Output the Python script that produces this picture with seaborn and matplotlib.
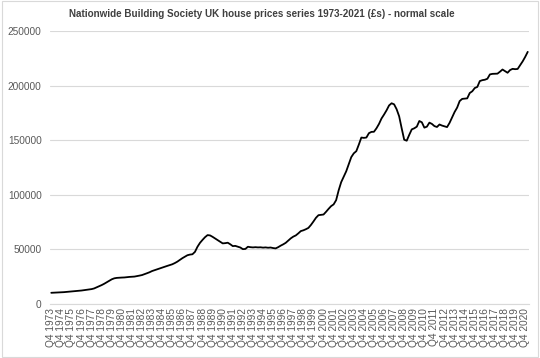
import numpy as np
import pandas as pd
import matplotlib
matplotlib.use("Agg")
import matplotlib.pyplot as plt
import seaborn as sns

# ---------------------------
# DATA (quarterly, Q4 1973 .. Q1 2021)
# ---------------------------
start_year = 1973
prices_1973 = [9900]
prices_1974_1983 = [
    10000, 10100, 10200, 10300,
    10500, 10700, 10900, 11100,
    11300, 11600, 11800, 12000,
    12300, 12600, 12900, 13300,
    13900, 14900, 16000, 17000,
    18200, 19600, 21000, 22300,
    23200, 23600, 23800, 23900,
    24000, 24300, 24500, 24600,
    24800, 25200, 25700, 26200,
    27000, 27900, 28800, 29900,
]
prices_1984_1993 = [
    30700, 31600, 32400, 33200,
    33900, 34600, 35300, 36100,
    37200, 38500, 40100, 41700,
    43000, 44400, 45000, 45300,
    47500, 52200, 55800, 58500,
    61000, 62900, 62600, 61300,
    59800, 58300, 56700, 55300,
    55500, 55900, 54500, 52800,
    53000, 52200, 51500, 50000,
    50200, 52200, 51800, 51600,
]
prices_1994_2003 = [
    51800, 51600, 51700, 51400,
    51600, 51300, 51500, 51000,
    50700, 51800, 53200, 54400,
    55800, 57800, 59900, 61500,
    62600, 64500, 66600, 67300,
    68300, 69500, 72200, 75400,
    78800, 81200, 81500, 81800,
    84300, 87000, 89500, 91100,
    95000, 104000, 111500, 116400,
    121500, 128000, 134500, 138000,
]
prices_2004_2013 = [
    140000, 146000, 152500, 152200,
    152500, 156500, 157700, 157800,
    161000, 165000, 170000, 173600,
    177500, 182000, 184000, 183000,
    178500, 172000, 161000, 150500,
    149600, 155000, 160000, 161000,
    162500, 167700, 166500, 161600,
    162500, 166200, 165000, 163000,
    162200, 164500, 163500, 162800,
    162100, 166000, 171000, 176000,
]
prices_2014_2021 = [
    180000, 186000, 188000, 188200,
    188500, 193400, 195000, 198000,
    199000, 204400, 205200, 205600,
    206500, 210500, 211000, 211100,
    211200, 213000, 215000, 213500,
    212000, 214500, 215600, 215300,
    215500, 219000, 222500, 226600,
    231200,
]

prices = (prices_1973 + prices_1974_1983 + prices_1984_1993
          + prices_1994_2003 + prices_2004_2013 + prices_2014_2021)

quarters = []
for i in range(len(prices)):
    q = (3 + i) % 4 + 1
    y = start_year + (3 + i) // 4
    quarters.append(f"Q{q} {y}")

df = pd.DataFrame({"idx": np.arange(len(prices)), "quarter": quarters, "price": prices})

tick_pos = [i for i, q in enumerate(quarters) if q.startswith("Q4")]
tick_labels = [quarters[i] for i in tick_pos]

title = "Nationwide Building Society UK house prices series 1973-2021 (£s) - normal scale"

# ---------------------------
# PLOT
# ---------------------------
sns.set_style("white")
plt.rcParams["font.family"] = ["Liberation Sans", "DejaVu Sans"]

fig = plt.figure(figsize=(5.4, 3.58), dpi=100)
ax = fig.add_axes([0.0926, 0.152, 0.887, 0.7603])

sns.lineplot(data=df, x="idx", y="price", color="black", linewidth=1.3, ax=ax)

ax.set_xlim(-0.5, len(prices) - 0.5)
ax.set_ylim(0, 250000)
ax.set_yticks(np.arange(0, 250001, 50000))
ax.set_yticklabels([str(v) for v in range(0, 250001, 50000)])
ax.set_xticks(tick_pos)
ax.set_xticklabels(tick_labels, rotation=90)
ax.tick_params(axis="both", length=0, labelsize=7.3, colors="#595959")
ax.tick_params(axis="y", pad=6)
ax.tick_params(axis="x", pad=3)
ax.grid(axis="y", color="#d9d9d9", linewidth=0.8)
ax.set_axisbelow(True)
ax.set_xlabel("")
ax.set_ylabel("")
for side in ["top", "right", "left"]:
    ax.spines[side].set_visible(False)
ax.spines["bottom"].set_color("#d9d9d9")
ax.spines["bottom"].set_linewidth(0.8)

fig.text(0.484, 1 - 14 / 358, title, ha="center", va="center",
         fontsize=7.1, fontweight="bold", color="#404040")

# light chart-area border
fig.patches.append(plt.Rectangle((0.003, 0.004), 0.994, 0.992, transform=fig.transFigure,
                                 fill=False, edgecolor="#d9d9d9", linewidth=0.8))

fig.savefig("out.png", dpi=100)
